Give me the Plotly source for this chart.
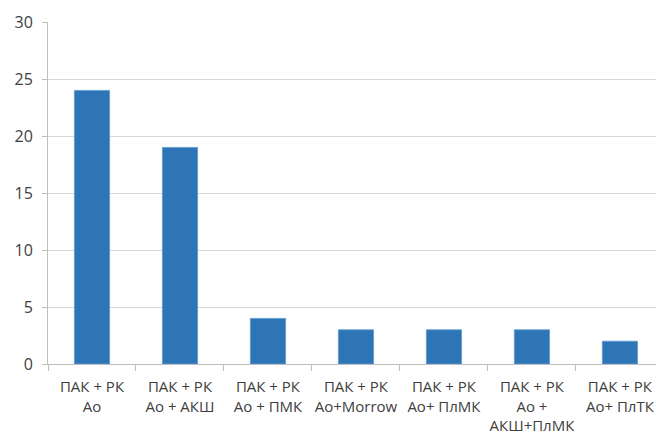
import plotly.graph_objects as go

categories = [
    "ПАК + РК<br>Ао",
    "ПАК + РК<br>Ао + АКШ",
    "ПАК + РК<br>Ао + ПМК",
    "ПАК + РК<br>Ао+Morrow",
    "ПАК + РК<br>Ао+ ПлМК",
    "ПАК + РК<br>Ао +<br>АКШ+ПлМК",
    "ПАК + РК<br>Ао+ ПлТК",
]
values = [24, 19, 4, 3, 3, 3, 2]
y_ticks = [0, 5, 10, 15, 20, 25, 30]

fig = go.Figure(
    go.Bar(
        x=categories,
        y=values,
        width=0.4,
        marker=dict(color="#2E75B6", line=dict(color="#5B9BD5", width=0.8)),
    )
)

fig.update_layout(
    width=656,
    height=436,
    margin=dict(l=48, r=0, t=22, b=72, autoexpand=False),
    paper_bgcolor="white",
    plot_bgcolor="white",
    showlegend=False,
    font=dict(family="Open Sans, Liberation Sans, sans-serif", size=15, color="#404040"),
)

fig.update_xaxes(
    type="category",
    range=[-0.5, 6.41],
    tickson="boundaries",
    tickangle=0,
    automargin=False,
    showline=True,
    linecolor="#BFBFBF",
    linewidth=1,
    ticks="outside",
    ticklen=6,
    tickcolor="#BFBFBF",
    showgrid=False,
    zeroline=False,
    ticklabelstandoff=9,
    tickfont=dict(size=15, color="#404040"),
)

fig.update_yaxes(
    range=[0, 30],
    tickvals=y_ticks,
    automargin=False,
    showline=True,
    linecolor="#BFBFBF",
    linewidth=1,
    ticks="outside",
    ticklen=5,
    tickcolor="#BFBFBF",
    showgrid=True,
    gridcolor="#D9D9D9",
    gridwidth=1,
    zeroline=False,
    ticklabelstandoff=6,
    tickfont=dict(size=16, color="#404040"),
)

fig.write_html("out.html")
